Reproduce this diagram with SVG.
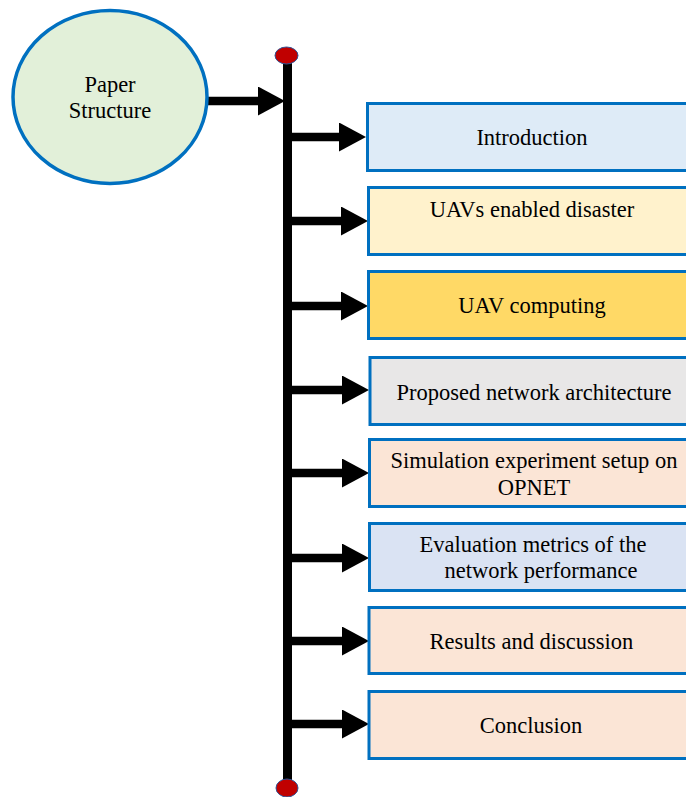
<svg xmlns="http://www.w3.org/2000/svg" width="686" height="797" viewBox="0 0 686 797">
<defs>
<style>
.box{stroke:#0070C0;stroke-width:3}
.t{font-family:"Liberation Serif","Times New Roman",serif;font-size:22.5px;fill:#000;text-anchor:middle}
.arr{stroke:#000;stroke-width:8.5;fill:none}
.dot{fill:#C00000;stroke:#2F5597;stroke-width:1}
</style>
<marker id="ah" markerUnits="userSpaceOnUse" markerWidth="28" markerHeight="30" refX="0" refY="14.5" orient="auto" viewBox="0 0 28 30">
<path d="M0,0 L27,14.5 L0,29 z" fill="#000"/>
</marker>
</defs>
<rect width="686" height="797" fill="#fff"/>
<g id="connectors">
<line x1="287.5" y1="60" x2="287.5" y2="784" stroke="#000" stroke-width="9"/>
<line class="arr" x1="207" y1="101" x2="258" y2="101" marker-end="url(#ah)"/>
<line class="arr" x1="290" y1="137" x2="339" y2="137" marker-end="url(#ah)"/>
<line class="arr" x1="290" y1="221" x2="341" y2="221" marker-end="url(#ah)"/>
<line class="arr" x1="290" y1="306" x2="341" y2="306" marker-end="url(#ah)"/>
<line class="arr" x1="290" y1="390" x2="342" y2="390" marker-end="url(#ah)"/>
<line class="arr" x1="290" y1="473" x2="342" y2="473" marker-end="url(#ah)"/>
<line class="arr" x1="290" y1="558" x2="342" y2="558" marker-end="url(#ah)"/>
<line class="arr" x1="290" y1="641" x2="342" y2="641" marker-end="url(#ah)"/>
<line class="arr" x1="290" y1="724" x2="342" y2="724" marker-end="url(#ah)"/>
</g>
<g id="dot-top"><ellipse class="dot" cx="286.5" cy="55.5" rx="11.5" ry="8.5"/></g>
<g id="dot-bottom"><ellipse class="dot" cx="287" cy="788" rx="11" ry="9"/></g>
<g id="paper-structure">
<ellipse cx="110" cy="97" rx="97" ry="86.5" fill="#E2F0D9" stroke="#0070C0" stroke-width="3.5"/>
<text class="t" x="110" y="92">Paper</text>
<text class="t" x="110" y="118">Structure</text>
</g>
<g id="introduction">
<rect class="box" x="367.5" y="103.5" width="340" height="67" fill="#DEEBF7"/>
<text class="t" x="532" y="145">Introduction</text>
</g>
<g id="uavs-disaster">
<rect class="box" x="368.5" y="187.5" width="340" height="67" fill="#FFF2CC"/>
<text class="t" x="532" y="217">UAVs enabled disaster</text>
</g>
<g id="uav-computing">
<rect class="box" x="368.5" y="271.5" width="340" height="67" fill="#FFD966"/>
<text class="t" x="532" y="313">UAV computing</text>
</g>
<g id="proposed">
<rect class="box" x="370" y="357.5" width="340" height="67" fill="#E8E7E7"/>
<text class="t" x="534" y="400">Proposed network architecture</text>
</g>
<g id="simulation">
<rect class="box" x="369.5" y="439.5" width="340" height="67" fill="#FBE5D6"/>
<text class="t" x="534" y="468">Simulation experiment setup on</text>
<text class="t" x="534" y="495">OPNET</text>
</g>
<g id="evaluation">
<rect class="box" x="369.5" y="523.5" width="340" height="67" fill="#DAE3F3"/>
<text class="t" x="533" y="552">Evaluation metrics of the</text>
<text class="t" x="541" y="578">network performance</text>
</g>
<g id="results">
<rect class="box" x="369" y="607.5" width="340" height="66" fill="#FBE5D6"/>
<text class="t" x="531.5" y="649">Results and discussion</text>
</g>
<g id="conclusion">
<rect class="box" x="369" y="691.5" width="340" height="67" fill="#FBE5D6"/>
<text class="t" x="531" y="733">Conclusion</text>
</g>
</svg>
